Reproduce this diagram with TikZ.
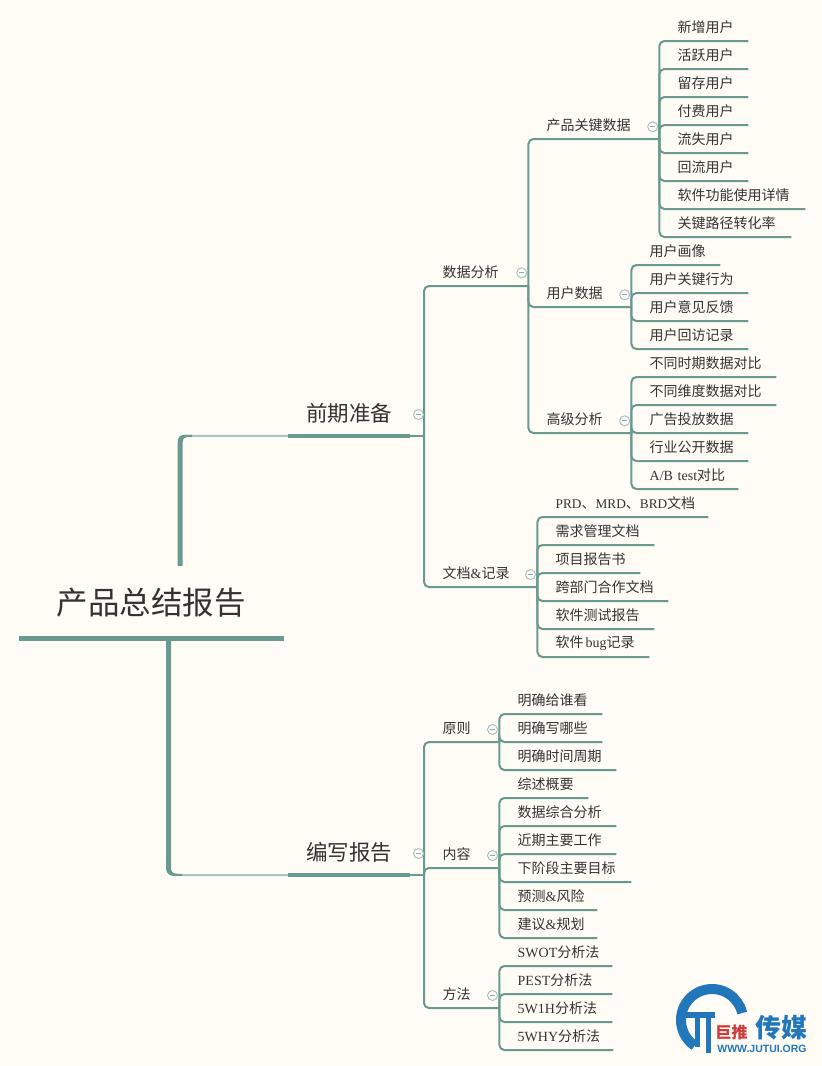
\documentclass[tikz,border=0pt]{standalone}
\usepackage{fontspec}
\setmainfont{Noto Sans CJK SC}
\newfontfamily\lat{Liberation Serif}
\newfontfamily\latn[Scale=0.95]{Liberation Serif}
\newfontfamily\logofont{Liberation Sans}
\usepackage{xcolor}

\definecolor{paper}{HTML}{FFFCF5}
\definecolor{stem}{HTML}{699A90}
\definecolor{stemlight}{HTML}{ABC6BE}
\definecolor{foldline}{HTML}{A6C4C4}
\definecolor{foldminus}{HTML}{8CA6C2}
\definecolor{ink}{HTML}{333333}
\definecolor{logoblue}{HTML}{2277BB}
\definecolor{logored}{HTML}{D03A3A}

\tikzset{
	x=1pt, y=-1pt,
	every node/.style={font=\fontsize{14}{16}\selectfont, text=ink},
	leaf/.style={anchor=south west, inner sep=0pt, minimum height=28pt, text width=#1 pt, align=left},
	topic/.style={anchor=south west, inner sep=0pt, minimum width=122pt, minimum height=44pt, font=\fontsize{21.5}{24}\selectfont},
	fold/.style={circle, draw=foldline, line width=1pt, inner sep=0pt, minimum size=10pt,
		path picture={\draw[foldminus, line width=1pt] (path picture bounding box.center) ++(-2.5pt,0) -- ++(5pt,0);}},
	branch/.style={draw=stem, line width=2pt, rounded corners=5pt},
	topicline/.style={draw=stem, line width=4.2pt},
	rootlight/.style={draw=stemlight, line width=2pt, rounded corners=6pt},
}

\begin{document}
\begin{tikzpicture}
	\useasboundingbox (0,0) rectangle (822,1066);
	\fill[paper] (0,0) rectangle (822,1066);

	% root and the two main topics
	\node[anchor=south west, inner sep=0pt, minimum width=265pt, minimum height=72pt, font=\fontsize{31.5}{34}\selectfont] (root) at (18.5,638.5) {产品总结报告};
	\node[topic] (prep) at (288,435.8) {前期准备};
	\node[topic] (write) at (288,875) {编写报告};

	\coordinate (rootup) at (180.2,565.8);
	\coordinate (rootdown) at (168.5,640);
	\coordinate (trunkprep) at (424,435.8);
	\coordinate (trunkwrite) at (424,875);

	\draw[draw=stem, line width=5pt] (root.south west) -- (root.south east);
	\draw[topicline] (prep.south west) -- (prep.south east);
	\draw[topicline] (write.south west) -- (write.south east);
	\draw[branch] (prep.south east) -- (trunkprep);
	\draw[branch] (write.south east) -- (trunkwrite);

	% thin pale end of the root branches, then the thick part over it
	\draw[rootlight] (rootup) |- (prep.south west);
	\draw[rootlight] (rootdown) |- (write.south west);
	\fill[stem] (177.7,565.8) -- (177.7,442) .. controls (177.7,437.5) and (180,434.8) .. (185,434.8) -- (192,434.8) -- (192,436.8) -- (187,437) .. controls (184,437.2) and (182.7,439) .. (182.7,442) -- (182.7,565.8) -- cycle;
	\fill[stem] (166,640) -- (166,868) .. controls (166,873) and (169,875.9) .. (174,875.9) -- (182,875.9) -- (182,873.9) -- (176,873.7) .. controls (172.8,873.5) and (171,871.5) .. (171,868) -- (171,640) -- cycle;

	% second level
	\foreach \id/\x/\y/\w/\txt in {
		data/424/286/104/数据分析,
		docs/424/587/113/{文档{\lat\&}记录},
		rule/424/742/75/原则,
		body/424/868/75/内容,
		tool/424/1008/75/方法}
	{
		\node[leaf=\w] (\id) at (\x,\y) {\hspace*{18.5pt}\txt};
	}
	\foreach \id in {data,docs}
	{
		\draw[branch] (trunkprep) |- (\id.south east);
	}
	\foreach \id in {rule,body,tool}
	{
		\draw[branch] (trunkwrite) |- (\id.south east);
	}

	% third level under data
	\foreach \id/\x/\y/\w/\txt in {
		key/528/139/131/产品关键数据,
		user/528/307/103/用户数据,
		adv/528/433/103/高级分析}
	{
		\node[leaf=\w] (\id) at (\x,\y) {\hspace*{18.5pt}\txt};
		\draw[branch] (data.south east) |- (\id.south east);
	}

	% leaves
	\foreach \id/\y/\w/\txt in {
		keya/41/89/新增用户,
		keyb/69/89/活跃用户,
		keyc/97/89/留存用户,
		keyd/125/89/付费用户,
		keye/153/89/流失用户,
		keyf/181/89/回流用户,
		keyg/209/146/软件功能使用详情,
		keyh/237/132/关键路径转化率}
	{
		\node[leaf=\w] (\id) at (659,\y) {\hspace*{18.5pt}\txt};
		\draw[branch] (key.south east) |- (\id.south east);
	}
	\foreach \id/\y/\w/\txt in {
		usera/265/89/用户画像,
		userb/293/117/用户关键行为,
		userc/321/117/用户意见反馈,
		userd/349/117/用户回访记录}
	{
		\node[leaf=\w] (\id) at (631,\y) {\hspace*{18.5pt}\txt};
		\draw[branch] (user.south east) |- (\id.south east);
	}
	\foreach \id/\y/\w/\txt in {
		adva/377/145/不同时期数据对比,
		advb/405/145/不同维度数据对比,
		advc/433/117/广告投放数据,
		advd/461/117/行业公开数据,
		adve/489/107/{{\lat A/B test}对比}}
	{
		\node[leaf=\w] (\id) at (631,\y) {\hspace*{18.5pt}\txt};
		\draw[branch] (adv.south east) |- (\id.south east);
	}
	\foreach \id/\y/\w/\txt in {
		docsa/517/171/{{\latn PRD}、{\latn MRD}、{\latn BRD}文档},
		docsb/545/117/需求管理文档,
		docsc/573/103/项目报告书,
		docsd/601/131/跨部门合作文档,
		docse/629/117/软件测试报告,
		docsf/657/112/{软件\hspace{2pt}{\lat bug}记录}}
	{
		\node[leaf=\w] (\id) at (537,\y) {\hspace*{18.5pt}\txt};
		\draw[branch] (docs.south east) |- (\id.south east);
	}
	\foreach \id/\y/\w/\txt in {
		rulea/714/103/明确给谁看,
		ruleb/742/103/明确写哪些,
		rulec/770/117/明确时间周期}
	{
		\node[leaf=\w] (\id) at (499,\y) {\hspace*{18.5pt}\txt};
		\draw[branch] (rule.south east) |- (\id.south east);
	}
	\foreach \id/\y/\w/\txt in {
		bodya/798/89/综述概要,
		bodyb/826/117/数据综合分析,
		bodyc/854/117/近期主要工作,
		bodyd/882/132/下阶段主要目标,
		bodye/910/98/{预测{\lat\&}风险},
		bodyf/938/98/{建议{\lat\&}规划}}
	{
		\node[leaf=\w] (\id) at (499,\y) {\hspace*{18.5pt}\txt};
		\draw[branch] (body.south east) |- (\id.south east);
	}
	\foreach \id/\y/\w/\txt in {
		toola/966/113/{{\lat SWOT}分析法},
		toolb/994/113/{{\lat PEST}分析法},
		toolc/1022/113/{{\lat 5W1H}分析法},
		toold/1050/114/{{\lat 5WHY}分析法}}
	{
		\node[leaf=\w] (\id) at (499,\y) {\hspace*{18.5pt}\txt};
		\draw[branch] (tool.south east) |- (\id.south east);
	}

	% fold marks
	\foreach \id/\x/\y in {
		foldkey/652.7/126.8,
		folduser/624.7/294.8,
		foldadv/624.7/420.8,
		folddata/521.7/272.8,
		folddocs/530.5/574.5,
		foldrule/492.5/729.5,
		foldbody/492.5/855.5,
		foldtool/492.5/995.5,
		foldprep/418.5/414.5,
		foldwrite/418.5/853.5}
	{
		\node[fold] (\id) at (\x,\y) {};
	}

	% logo
	\draw[logoblue, line width=10pt] (712,1020) ++(124:31) arc[start angle=124, end angle=347, radius=31];
	\fill[logoblue] (686,1012) rectangle (715,1018);
	\fill[logoblue] (695,1012) rectangle (700,1047);
	\fill[logoblue] (705.5,1012) rectangle (710.5,1053);
	\node[font=\fontsize{16}{17}\bfseries\selectfont, text=logored, inner sep=0pt] (logored) at (731.5,1032) {巨推};
	\node[font=\fontsize{26}{27}\bfseries\selectfont, text=logoblue, inner sep=0pt] (logoname) at (781,1027.5) {传媒};
	\node[font=\logofont\fontsize{10.5}{11}\bfseries\selectfont, text=logoblue, inner sep=0pt] (logourl) at (762,1049) {WWW.JUTUI.ORG};
\end{tikzpicture}
\end{document}
